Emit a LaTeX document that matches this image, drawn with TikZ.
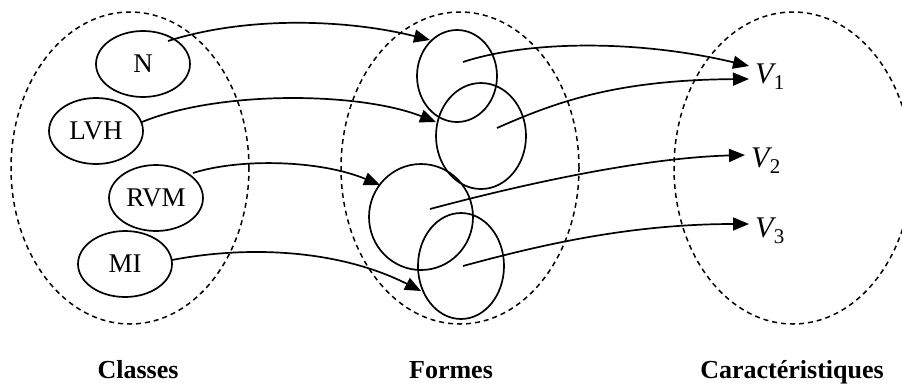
\documentclass[tikz,border=0pt]{standalone}
\usepackage{fontspec}
\setmainfont{Liberation Serif}
\usetikzlibrary{shapes.geometric,arrows.meta}
\newcommand{\vsym}[1]{\textit{V}\kern-2.5pt\raisebox{-6pt}{\fontsize{21}{24}\selectfont #1}}
\tikzset{
  setellipse/.style={ellipse, draw, dashed, dash pattern=on 5pt off 4pt, line width=1.5pt, minimum width=238pt, minimum height=312pt, inner sep=0pt},
  classnode/.style={ellipse, draw, line width=1.7pt, minimum width=94pt, minimum height=66pt, inner sep=0pt, font=\fontsize{27}{31}\selectfont},
  formnode/.style={ellipse, draw, line width=1.7pt, inner sep=0pt},
  conn/.style={line width=1.7pt, -{Triangle[length=16pt,width=13pt]}},
  grouplabel/.style={anchor=base, font=\fontsize{26}{30}\selectfont\bfseries},
  vlabel/.style={anchor=west, inner sep=0pt, font=\fontsize{30}{34}\selectfont}
}
\begin{document}
\begin{tikzpicture}[x=1pt,y=-1pt]
\useasboundingbox (0,0) rectangle (902,383);
\clip (0,0) rectangle (902,383);
% set ellipses
\node[setellipse] (classes) at (130,168) {};
\node[setellipse] (formes) at (460,168) {};
\node[setellipse] (caract) at (793,168) {};
% class nodes
\node[classnode] (N) at (143,64) {N};
\node[classnode] (LVH) at (96,131) {LVH};
\node[classnode] (RVM) at (156,198) {RVM};
\node[classnode] (MI) at (125,264) {MI};
% form circles
\node[formnode, minimum width=80pt, minimum height=92pt] (F1) at (457,76) {};
\node[formnode, minimum width=90pt, minimum height=106pt] (F2) at (481,136) {};
\node[formnode, minimum width=104pt, minimum height=106pt] (F3) at (421,217) {};
\node[formnode, minimum width=86pt, minimum height=106pt] (F4) at (461,266) {};
% V labels
\node[vlabel] (V1) at (755,77) {\vsym{1}};
\node[vlabel] (V2) at (751,161) {\vsym{2}};
\node[vlabel] (V3) at (755,231) {\vsym{3}};
% connector end points
\coordinate (a1) at (168,41);
\coordinate (a2) at (142,122);
\coordinate (a3) at (193,173);
\coordinate (a4) at (172,260);
\coordinate (t1) at (430,40);
\coordinate (t2) at (436,122);
\coordinate (t3) at (380,185);
\coordinate (t4) at (421,291);
\coordinate (b1) at (463,62);
\coordinate (b2) at (497,128);
\coordinate (b3) at (430,209);
\coordinate (b4) at (463,266);
\coordinate (v1a) at (749,66);
\coordinate (v1b) at (749,79);
\coordinate (v2) at (745,155);
\coordinate (v3) at (749,224);
% class -> form connectors
\draw[conn] (a1) .. controls (250,15) and (350,20) .. (t1);
\draw[conn] (a2) .. controls (220,90) and (360,92) .. (t2);
\draw[conn] (a3) .. controls (240,158) and (320,160) .. (t3);
\draw[conn] (a4) .. controls (250,245) and (340,250) .. (t4);
% form -> characteristic connectors
\draw[conn] (b1) .. controls (530,40) and (640,40) .. (v1a);
\draw[conn] (b2) .. controls (560,100) and (620,80) .. (v1b);
\draw[conn] (b3) .. controls (520,185) and (640,158) .. (v2);
\draw[conn] (b4) .. controls (540,245) and (630,224) .. (v3);
% group labels
\node[grouplabel] (lclasses) at (138,378) {Classes};
\node[grouplabel] (lformes) at (451,378) {Formes};
\node[grouplabel] (lcaract) at (792,378) {Caractéristiques};
\end{tikzpicture}
\end{document}
